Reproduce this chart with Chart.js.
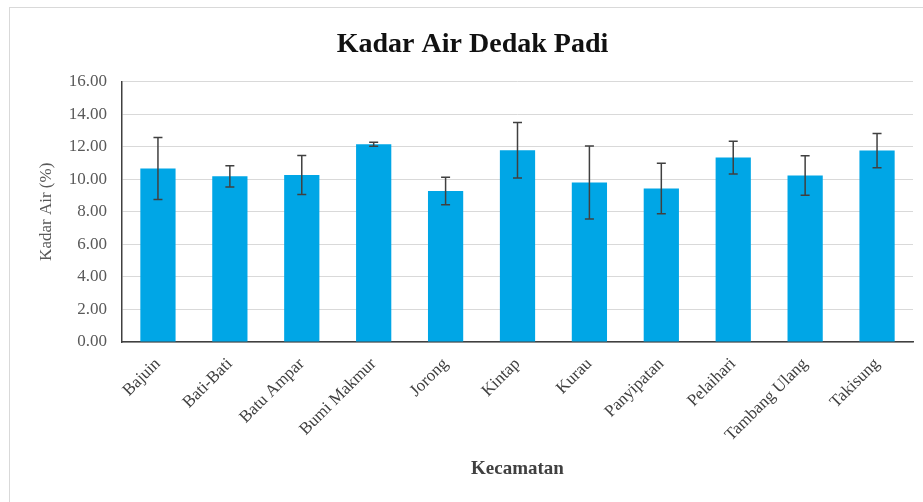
<!DOCTYPE html>
<html>
<head>
<meta charset="utf-8">
<script src="https://cdn.jsdelivr.net/npm/chart.js@4"></script>
<style>
    html, body { margin: 0; padding: 0; background: #fff; overflow: hidden; }
    #wrap { position: relative; width: 923px; height: 502px; }
    #frame { position: absolute; left: 9px; top: 7px; width: 940px; height: 520px; border: 1px solid #d9d9d9; }
    canvas { position: absolute; left: 0; top: 0; }
</style>
</head>
<body>
<div id="wrap">
    <div id="frame"></div>
    <canvas id="kadar-chart" width="923" height="502"></canvas>
</div>
<script>
// Kecamatan names
const kecamatan = ['Bajuin', 'Bati-Bati', 'Batu Ampar', 'Bumi Makmur', 'Jorong', 'Kintap',
    'Kurau', 'Panyipatan', 'Pelaihari', 'Tambang Ulang', 'Takisung'];
// mean water content (%)
const kadarAir = [10.66, 10.18, 10.26, 12.15, 9.28, 11.78, 9.80, 9.43, 11.33, 10.23, 11.76];
// standard deviation for error bars
const stdDev = [1.90, 0.65, 1.20, 0.12, 0.85, 1.70, 2.25, 1.55, 1.00, 1.22, 1.05];
const yTicks = [0, 2, 4, 6, 8, 10, 12, 14, 16];

const serif = "'Liberation Serif', 'Times New Roman', serif";

// draws the error bars on top of each bar
const errorBars = {
    id: 'errorBars',
    afterDatasetsDraw(chart) {
        const ctx = chart.ctx;
        const yScale = chart.scales.y;
        const meta = chart.getDatasetMeta(0);
        ctx.save();
        ctx.strokeStyle = '#404040';
        ctx.lineWidth = 1.5;
        meta.data.forEach((bar, i) => {
            const x = bar.x;
            const top = yScale.getPixelForValue(kadarAir[i] + stdDev[i]);
            const bottom = yScale.getPixelForValue(kadarAir[i] - stdDev[i]);
            ctx.beginPath();
            ctx.moveTo(x, top);
            ctx.lineTo(x, bottom);
            ctx.moveTo(x - 4.5, top);
            ctx.lineTo(x + 4.5, top);
            ctx.moveTo(x - 4.5, bottom);
            ctx.lineTo(x + 4.5, bottom);
            ctx.stroke();
        });
        ctx.restore();
    }
};

const ctx = document.getElementById('kadar-chart').getContext('2d');
new Chart(ctx, {
    type: 'bar',
    data: {
        labels: kecamatan,
        datasets: [{
            label: 'Kadar Air',
            data: kadarAir,
            backgroundColor: '#00a6e6',
            categoryPercentage: 1,
            barPercentage: 0.49,
        }]
    },
    options: {
        responsive: false,
        animation: false,
        layout: {
            padding: { left: 32, right: 10, top: 0, bottom: 20 }
        },
        scales: {
            x: {
                afterFit: (scale) => { scale.height = 140; },
                grid: { display: false },
                border: { display: true, color: '#404040', width: 1.5 },
                ticks: {
                    color: '#404040',
                    font: { family: serif, size: 17 },
                    minRotation: 45,
                    maxRotation: 45,
                    autoSkip: false,
                    padding: 4,
                },
                title: {
                    display: true,
                    text: 'Kecamatan',
                    color: '#404040',
                    font: { family: serif, size: 19, weight: 'bold' },
                    padding: { top: 0, bottom: 2 },
                }
            },
            y: {
                min: 0,
                max: 16,
                afterFit: (scale) => { scale.width = 90; },
                afterBuildTicks: (scale) => { scale.ticks = yTicks.map(v => ({ value: v })); },
                grid: { color: '#d9d9d9', lineWidth: 1, drawTicks: false },
                border: { display: true, color: '#404040', width: 1.5 },
                ticks: {
                    color: '#595959',
                    font: { family: serif, size: 17 },
                    padding: 15,
                    callback: (value) => value.toFixed(2),
                },
                title: {
                    display: true,
                    text: 'Kadar Air (%)',
                    color: '#595959',
                    font: { family: serif, size: 17 },
                    padding: { top: 4, bottom: 0 },
                }
            }
        },
        plugins: {
            legend: { display: false },
            tooltip: { enabled: false },
            title: {
                display: true,
                text: 'Kadar Air Dedak Padi',
                color: '#111111',
                font: { family: serif, size: 28, weight: 'bold' },
                padding: { top: 28, bottom: 20 },
            }
        }
    },
    plugins: [errorBars]
});
</script>
</body>
</html>
